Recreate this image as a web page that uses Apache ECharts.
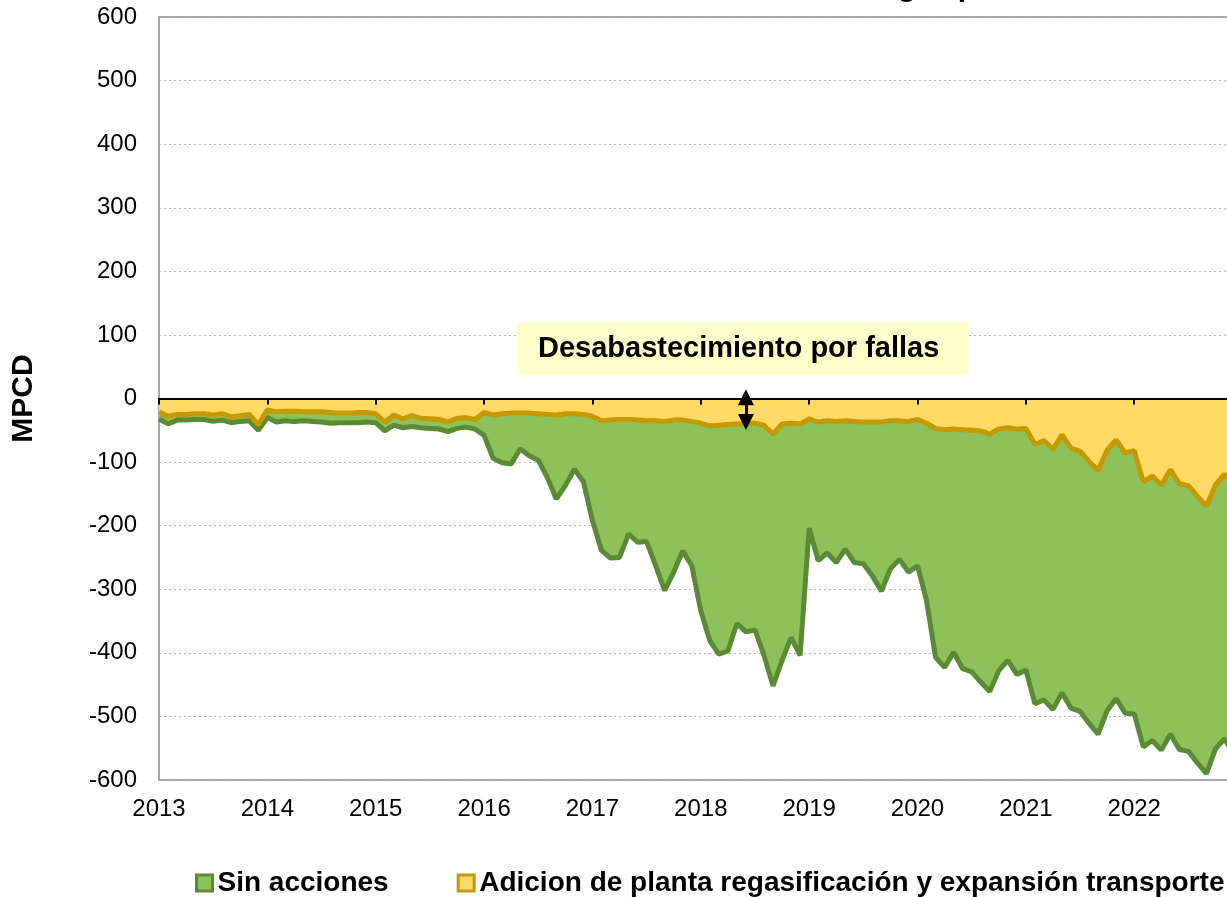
<!DOCTYPE html>
<html>
<head>
<meta charset="utf-8">
<title>Desabastecimiento por fallas</title>
<script src="https://cdn.jsdelivr.net/npm/echarts@6/dist/echarts.min.js"></script>
<style>
html, body { margin: 0; padding: 0; background: #fff; }
#main { width: 1227px; height: 897px; }
</style>
</head>
<body>
<div id="main"></div>
<script>
// años del eje (el grafico original sigue mas alla del borde derecho)
var years = [2013, 2014, 2015, 2016, 2017, 2018, 2019, 2020, 2021, 2022, 2023];
var lastLabelYear = 2022;

// MPCD mensual, ene-2013 .. dic-2022
var sinAcciones = [
    -32, -40, -34, -34, -33, -33, -36, -34, -38, -36, -35, -50,
    -30, -37, -35, -36, -35, -36, -37, -39, -38, -38, -38, -37,
    -38, -51, -42, -46, -44, -46, -47, -48, -52, -47, -45, -48,
    -58, -94, -101, -103, -79, -90, -97, -124, -158, -137, -111, -131,
    -192, -239, -251, -250, -213, -226, -225, -263, -302, -273, -240, -263,
    -334, -381, -402, -397, -354, -367, -364, -404, -452, -412, -376, -404,
    -204, -255, -243, -258, -237, -258, -260, -279, -303, -268, -253, -273,
    -263, -318, -407, -423, -399, -425, -430, -446, -461, -428, -412, -434,
    -427, -480, -474, -489, -463, -487, -492, -511, -528, -491, -472, -495,
    -496, -548, -538, -553, -528, -552, -555, -573, -590, -551, -535, -560
];
var adicionPlanta = [
    -21, -28, -25, -25, -24, -24, -26, -24, -29, -27, -25, -41,
    -18, -21, -20, -20, -21, -21, -21, -22, -23, -23, -22, -22,
    -24, -37, -26, -32, -27, -31, -32, -33, -37, -31, -30, -33,
    -22, -26, -24, -23, -23, -23, -24, -25, -26, -24, -24, -25,
    -28, -35, -34, -33, -33, -34, -35, -35, -36, -34, -34, -36,
    -39, -43, -42, -41, -40, -40, -39, -42, -56, -40, -39, -40,
    -32, -37, -35, -36, -35, -36, -37, -37, -37, -35, -35, -36,
    -33, -39, -47, -49, -48, -49, -50, -51, -56, -48, -46, -48,
    -47, -72, -66, -80, -57, -78, -83, -99, -113, -81, -65, -86,
    -82, -131, -122, -136, -112, -134, -137, -154, -169, -136, -119, -140
];

var yMin = -600, yMax = 600, yStep = 100;
var serieNames = ['Sin acciones', 'Adicion de planta regasificación y expansión transporte'];

var months = [];
years.forEach(function (y) {
    for (var m = 1; m <= 12; m++) {
        months.push(y + '-' + (m < 10 ? '0' + m : m));
    }
});

var isYearStart = function (idx) { return idx % 12 === 0; };
var fontFam = '"Liberation Sans", Arial, sans-serif';

var chart = echarts.init(document.getElementById('main'));
var option = {
    animation: false,
    textStyle: { fontFamily: fontFam },
    graphic: [
        {
            type: 'text', left: 731, top: -27, z: 100,
            style: { text: 'Balance de gas por fallas', font: 'bold 30px ' + fontFam, fill: '#000' }
        },
        {
            type: 'text', left: 517, top: 322, z: 100,
            style: {
                text: 'Desabastecimiento por fallas',
                font: 'bold 29px ' + fontFam,
                fill: '#000',
                backgroundColor: '#FFFFCC',
                padding: [12, 29, 12, 21]
            }
        }
    ],
    legend: {
        left: 190,
        top: 864,
        width: 1300,
        itemWidth: 16,
        itemHeight: 16,
        itemGap: 68,
        textStyle: { fontSize: 28, fontWeight: 'bold', color: '#000' },
        data: [
            { name: serieNames[0], icon: 'rect', itemStyle: { color: '#8DC25A', borderColor: '#5A8A34', borderWidth: 3 } },
            { name: serieNames[1], icon: 'rect', itemStyle: { color: '#FFD966', borderColor: '#C49A00', borderWidth: 3 } }
        ]
    },
    grid: {
        left: 159,
        top: 17,
        width: (months.length - 1) * 9.03,
        height: 763,
        show: true,
        borderColor: '#A6A6A6',
        borderWidth: 2,
        outerBoundsMode: 'none'
    },
    xAxis: [
        {
            type: 'category',
            data: months,
            boundaryGap: false,
            axisLine: { show: false, onZero: false },
            axisTick: { show: false },
            splitLine: { show: false },
            axisLabel: {
                interval: function (idx, val) {
                    return isYearStart(idx) && +val.slice(0, 4) <= lastLabelYear;
                },
                formatter: function (val) { return val.slice(0, 4); },
                fontSize: 24,
                color: '#000',
                margin: 17
            }
        },
        {
            type: 'category',
            data: months,
            boundaryGap: false,
            position: 'bottom',
            z: 10,
            axisLine: { onZero: true, lineStyle: { color: '#000', width: 2 } },
            axisTick: { interval: isYearStart, length: 6, lineStyle: { color: '#000', width: 2 } },
            axisLabel: { show: false },
            splitLine: { show: false }
        }
    ],
    yAxis: {
        type: 'value',
        min: yMin,
        max: yMax,
        interval: yStep,
        name: 'MPCD',
        nameLocation: 'middle',
        nameGap: 120,
        nameRotate: 90,
        nameTextStyle: { fontSize: 30, fontWeight: 'bold', color: '#000' },
        axisLine: { show: true, lineStyle: { color: '#A6A6A6', width: 2 } },
        axisTick: { show: false },
        axisLabel: { fontSize: 24, color: '#000', margin: 22 },
        splitLine: { lineStyle: { type: [2, 3], color: '#B4B4B4', width: 1 } }
    },
    series: [
        {
            name: serieNames[0],
            type: 'line',
            data: sinAcciones,
            symbol: 'none',
            z: 2,
            lineStyle: { color: '#5A8A34', width: 5 },
            itemStyle: { color: '#8DC25A' },
            areaStyle: { color: '#8DC25A', opacity: 1, origin: 0 }
        },
        {
            name: serieNames[1],
            type: 'line',
            data: adicionPlanta,
            symbol: 'none',
            z: 3,
            lineStyle: { color: '#C49A00', width: 5 },
            itemStyle: { color: '#FFD966' },
            areaStyle: { color: '#FFD966', opacity: 1, origin: 0 },
            markLine: {
                silent: true,
                animation: false,
                symbol: ['triangle', 'triangle'],
                symbolSize: [16, 16],
                label: { show: false },
                lineStyle: { color: '#000', width: 3, type: 'solid' },
                data: [[{ coord: [64.7, 2] }, { coord: [64.7, -37] }]]
            }
        }
    ]
};
chart.setOption(option);
</script>
</body>
</html>
